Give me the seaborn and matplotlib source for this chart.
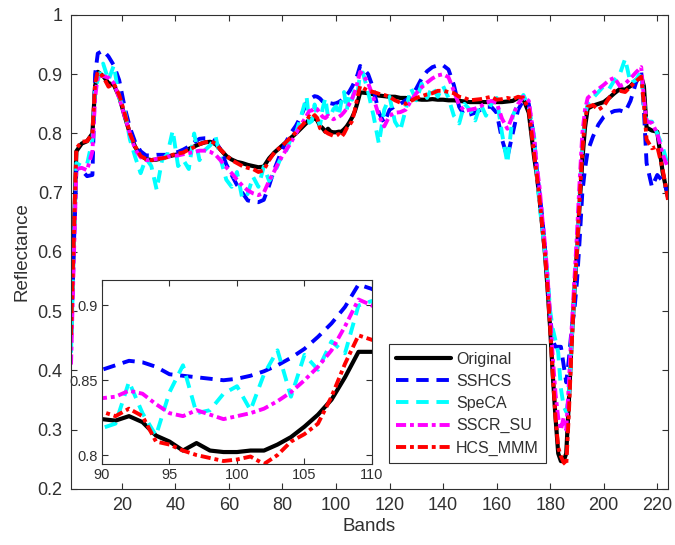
import matplotlib
matplotlib.use("Agg")
import matplotlib.pyplot as plt
import seaborn as sns
import numpy as np

# ---------------- data ----------------
bands = [1, 2, 3, 5, 7, 9, 10, 11, 13, 15, 17, 19, 21, 23, 25, 27, 29, 31, 33, 35, 37, 39, 41, 43,
         45, 47, 49, 51, 53, 55, 57, 59, 61, 63, 65, 67, 69, 71, 73, 75, 77, 79, 81, 83, 85, 87, 89,
         90, 91, 92, 93, 94, 95, 96, 97, 98, 99, 100, 101, 102, 103, 104, 105, 106, 107, 108, 109, 110,
         112, 114, 116, 118, 120, 122, 124, 126, 128, 130, 132, 134, 136, 138, 140, 142, 144, 146, 148,
         150, 152, 154, 156, 158, 160, 162, 164, 166, 168, 170, 172, 174, 175, 176, 177, 178, 179, 180,
         181, 182, 183, 184, 185, 186, 187, 188, 189, 190, 191, 192, 193, 194, 196, 198, 200, 202, 204,
         206, 208, 210, 212, 214, 215, 216, 218, 220, 222, 224]

original = [0.46, 0.62, 0.77, 0.783, 0.787, 0.80, 0.88, 0.904, 0.897, 0.885, 0.882, 0.862, 0.83, 0.80,
            0.777, 0.763, 0.757, 0.755, 0.756, 0.758, 0.761, 0.763, 0.765, 0.77, 0.774, 0.778, 0.782,
            0.785, 0.786, 0.782, 0.772, 0.762, 0.756, 0.752, 0.75, 0.747, 0.745, 0.743, 0.744, 0.758,
            0.768, 0.776, 0.784, 0.792, 0.80, 0.809, 0.818,
            0.824, 0.823, 0.826, 0.822, 0.813, 0.809, 0.803, 0.808, 0.803, 0.802, 0.802, 0.803, 0.803,
            0.807, 0.812, 0.819, 0.827, 0.837, 0.852, 0.869, 0.869,
            0.868, 0.866, 0.864, 0.863, 0.862, 0.862, 0.86, 0.86, 0.858, 0.858, 0.857, 0.857, 0.858,
            0.857, 0.857, 0.856, 0.856, 0.855, 0.854, 0.853, 0.853, 0.853, 0.853, 0.853, 0.853, 0.853,
            0.854, 0.855, 0.86, 0.858, 0.835, 0.76, 0.73, 0.69, 0.645, 0.60, 0.54, 0.47,
            0.39, 0.32, 0.26, 0.247, 0.247, 0.26, 0.35, 0.45, 0.53, 0.60, 0.68, 0.755, 0.81, 0.842,
            0.847, 0.85, 0.853, 0.86, 0.868, 0.875, 0.874, 0.88, 0.89, 0.896, 0.88, 0.81, 0.805, 0.803,
            0.735, 0.693]

sshcs = [0.45, 0.60, 0.74, 0.738, 0.728, 0.73, 0.90, 0.935, 0.94, 0.93, 0.915, 0.89, 0.845, 0.81,
         0.785, 0.77, 0.763, 0.763, 0.764, 0.764, 0.764, 0.766, 0.769, 0.773, 0.778, 0.785, 0.791,
         0.792, 0.792, 0.786, 0.772, 0.748, 0.73, 0.713, 0.70, 0.687, 0.685, 0.684, 0.688, 0.712,
         0.74, 0.763, 0.783, 0.80, 0.813, 0.83, 0.852,
         0.857, 0.86, 0.863, 0.862, 0.859, 0.854, 0.853, 0.852, 0.851, 0.85, 0.851, 0.853, 0.856,
         0.86, 0.865, 0.871, 0.879, 0.888, 0.899, 0.914, 0.911,
         0.90, 0.875, 0.835, 0.818, 0.84, 0.846, 0.85, 0.856, 0.862, 0.876, 0.893, 0.905, 0.912,
         0.915, 0.915, 0.908, 0.882, 0.845, 0.83, 0.832, 0.835, 0.84, 0.845, 0.845, 0.835, 0.79,
         0.76, 0.80, 0.84, 0.856, 0.85, 0.79, 0.74, 0.70, 0.66, 0.61, 0.55, 0.49,
         0.45, 0.44, 0.44, 0.44, 0.41, 0.38, 0.42, 0.47, 0.50, 0.55, 0.62, 0.70, 0.74, 0.77,
         0.795, 0.815, 0.828, 0.834, 0.838, 0.839, 0.836, 0.855, 0.885, 0.905, 0.84, 0.75, 0.71, 0.73,
         0.72, 0.70]

speca = [0.43, 0.60, 0.75, 0.745, 0.748, 0.79, 0.875, 0.89, 0.918, 0.89, 0.915, 0.86, 0.84, 0.79,
         0.76, 0.733, 0.758, 0.745, 0.705, 0.755, 0.765, 0.805, 0.745, 0.755, 0.74, 0.80, 0.755,
         0.772, 0.78, 0.795, 0.755, 0.722, 0.71, 0.735, 0.69, 0.698, 0.727, 0.71, 0.744, 0.72,
         0.733, 0.755, 0.766, 0.79, 0.80, 0.83, 0.862,
         0.818, 0.821, 0.849, 0.828, 0.813, 0.842, 0.86, 0.828, 0.83, 0.841, 0.846, 0.83, 0.854,
         0.87, 0.839, 0.867, 0.857, 0.876, 0.868, 0.90, 0.903,
         0.87, 0.83, 0.783, 0.84, 0.862, 0.82, 0.805, 0.84, 0.876, 0.856, 0.884, 0.86, 0.879,
         0.862, 0.88, 0.86, 0.83, 0.817, 0.85, 0.84, 0.822, 0.85, 0.83, 0.85, 0.86, 0.80,
         0.75, 0.83, 0.85, 0.865, 0.845, 0.795, 0.73, 0.68, 0.64, 0.60, 0.56, 0.50,
         0.47, 0.45, 0.43, 0.37, 0.34, 0.33, 0.36, 0.45, 0.53, 0.61, 0.70, 0.78, 0.83, 0.85,
         0.86, 0.87, 0.88, 0.875, 0.89, 0.90, 0.926, 0.885, 0.89, 0.905, 0.85, 0.82, 0.82, 0.80,
         0.778, 0.745]

sscr_su = [0.41, 0.58, 0.74, 0.742, 0.738, 0.77, 0.86, 0.898, 0.897, 0.894, 0.885, 0.86, 0.83, 0.80,
           0.773, 0.76, 0.755, 0.755, 0.757, 0.759, 0.761, 0.762, 0.763, 0.765, 0.767, 0.769, 0.771,
           0.771, 0.769, 0.764, 0.754, 0.743, 0.733, 0.722, 0.712, 0.704, 0.699, 0.696, 0.70, 0.72,
           0.737, 0.755, 0.77, 0.783, 0.80, 0.815, 0.83,
           0.838, 0.839, 0.843, 0.841, 0.834, 0.828, 0.826, 0.830, 0.827, 0.824, 0.826, 0.828, 0.831,
           0.836, 0.842, 0.85, 0.859, 0.87, 0.886, 0.904, 0.90,
           0.885, 0.86, 0.83, 0.812, 0.83, 0.835, 0.836, 0.84, 0.855, 0.868, 0.878, 0.886, 0.893,
           0.898, 0.90, 0.895, 0.872, 0.848, 0.838, 0.84, 0.842, 0.846, 0.852, 0.855, 0.852, 0.825,
           0.808, 0.83, 0.85, 0.862, 0.855, 0.79, 0.745, 0.71, 0.66, 0.615, 0.56, 0.49,
           0.42, 0.36, 0.32, 0.30, 0.32, 0.30, 0.38, 0.47, 0.55, 0.63, 0.72, 0.80, 0.84, 0.86,
           0.868, 0.875, 0.882, 0.89, 0.894, 0.88, 0.884, 0.893, 0.903, 0.912, 0.86, 0.82, 0.818, 0.80,
           0.765, 0.742]

hcs_mmm = [0.46, 0.62, 0.775, 0.786, 0.787, 0.80, 0.885, 0.904, 0.896, 0.879, 0.884, 0.865, 0.835, 0.80,
           0.778, 0.762, 0.757, 0.755, 0.757, 0.758, 0.76, 0.764, 0.766, 0.768, 0.773, 0.777, 0.782,
           0.785, 0.787, 0.783, 0.772, 0.763, 0.755, 0.75, 0.745, 0.742, 0.74, 0.735, 0.738, 0.755,
           0.768, 0.776, 0.784, 0.793, 0.802, 0.812, 0.822,
           0.829, 0.826, 0.831, 0.826, 0.809, 0.807, 0.803, 0.80, 0.798, 0.796, 0.797, 0.799, 0.794,
           0.80, 0.809, 0.814, 0.821, 0.839, 0.861, 0.88, 0.877,
           0.872, 0.87, 0.867, 0.865, 0.862, 0.856, 0.852, 0.85, 0.855, 0.86, 0.863, 0.866, 0.868,
           0.872, 0.872, 0.87, 0.868, 0.862, 0.86, 0.856, 0.857, 0.858, 0.86, 0.862, 0.857, 0.858,
           0.86, 0.858, 0.862, 0.86, 0.84, 0.765, 0.73, 0.69, 0.645, 0.60, 0.54, 0.47,
           0.39, 0.32, 0.27, 0.255, 0.245, 0.24, 0.33, 0.44, 0.53, 0.60, 0.69, 0.77, 0.825, 0.845,
           0.848, 0.84, 0.846, 0.86, 0.872, 0.872, 0.87, 0.879, 0.888, 0.896, 0.85, 0.79, 0.775, 0.778,
           0.74, 0.688]

labels = ["Original", "SSHCS", "SpeCA", "SSCR_SU", "HCS_MMM"]
series = [original, sshcs, speca, sscr_su, hcs_mmm]
colors = ["#000000", "#0000FF", "#00FFFF", "#FF00FF", "#FF0000"]
styles = ["-", (0, (3.2, 2.0)), (0, (3.2, 2.0)), (0, (2.6, 1.0, 1.0, 1.0)), (0, (2.6, 1.0, 1.0, 1.0))]
widths = [3.0, 2.8, 2.8, 2.8, 2.8]

main_xticks = [20, 40, 60, 80, 100, 120, 140, 160, 180, 200, 220]
main_yticks = [0.2, 0.3, 0.4, 0.5, 0.6, 0.7, 0.8, 0.9, 1.0]
main_yticklabels = ["0.2", "0.3", "0.4", "0.5", "0.6", "0.7", "0.8", "0.9", "1"]
inset_xticks = [90, 95, 100, 105, 110]
inset_yticks = [0.80, 0.85, 0.90]
inset_yticklabels = ["0.8", "0.85", "0.9"]

# ---------------- style ----------------
sns.set_theme(style="ticks")
plt.rcParams["font.family"] = ["Liberation Sans", "DejaVu Sans"]
txt = "#303030"
plt.rcParams.update({
    "axes.edgecolor": txt, "xtick.color": txt, "ytick.color": txt,
    "axes.labelcolor": txt, "text.color": txt, "axes.linewidth": 0.8,
    "xtick.direction": "in", "ytick.direction": "in",
    "xtick.major.size": 4, "ytick.major.size": 4,
    "xtick.major.width": 0.8, "ytick.major.width": 0.8,
})

fig = plt.figure(figsize=(6.75, 5.45), dpi=100)
ax = fig.add_axes([0.1052, 0.1028, 0.8844, 0.8697])


def draw(axis):
    handles = []
    for vals, lab, col, ls, lw in zip(series, labels, colors, styles, widths):
        sns.lineplot(x=bands, y=vals, ax=axis, color=col, linestyle=ls, linewidth=lw,
                     label=lab, legend=False, sort=True, errorbar=None)
        ln = axis.get_lines()[-1]
        ln.set_dash_capstyle("butt")
        handles.append(ln)
    return handles


handles = draw(ax)
ax.set_xlim(1, 224)
ax.set_ylim(0.2, 1.0)
ax.set_xticks(main_xticks)
ax.set_yticks(main_yticks)
ax.set_yticklabels(main_yticklabels)
ax.tick_params(labelsize=13, top=True, right=True, pad=6)
ax.set_xlabel("Bands", fontsize=13.5, labelpad=3)
ax.set_ylabel("Reflectance", fontsize=13.5, labelpad=5)
for s in ax.spines.values():
    s.set_visible(True)

leg = ax.legend(handles, labels, loc="lower right", bbox_to_anchor=(0.796, 0.055),
                fontsize=11.5, frameon=True, fancybox=False, framealpha=1,
                edgecolor=txt, handlelength=3.4, labelspacing=0.45, borderpad=0.45,
                handletextpad=0.35, borderaxespad=0)
leg.get_frame().set_linewidth(0.8)

# inset
axin = fig.add_axes([0.1511, 0.1486, 0.4, 0.3376])
axin.set_facecolor("white")
draw(axin)
axin.set_xlim(90, 110)
axin.set_ylim(0.794, 0.917)
axin.set_xticks(inset_xticks)
axin.set_yticks(inset_yticks)
axin.set_yticklabels(inset_yticklabels)
axin.tick_params(labelsize=10.5, top=True, right=True, pad=3)
axin.set_xlabel("")
axin.set_ylabel("")
for s in axin.spines.values():
    s.set_visible(True)

fig.savefig("out.png", dpi=100)
